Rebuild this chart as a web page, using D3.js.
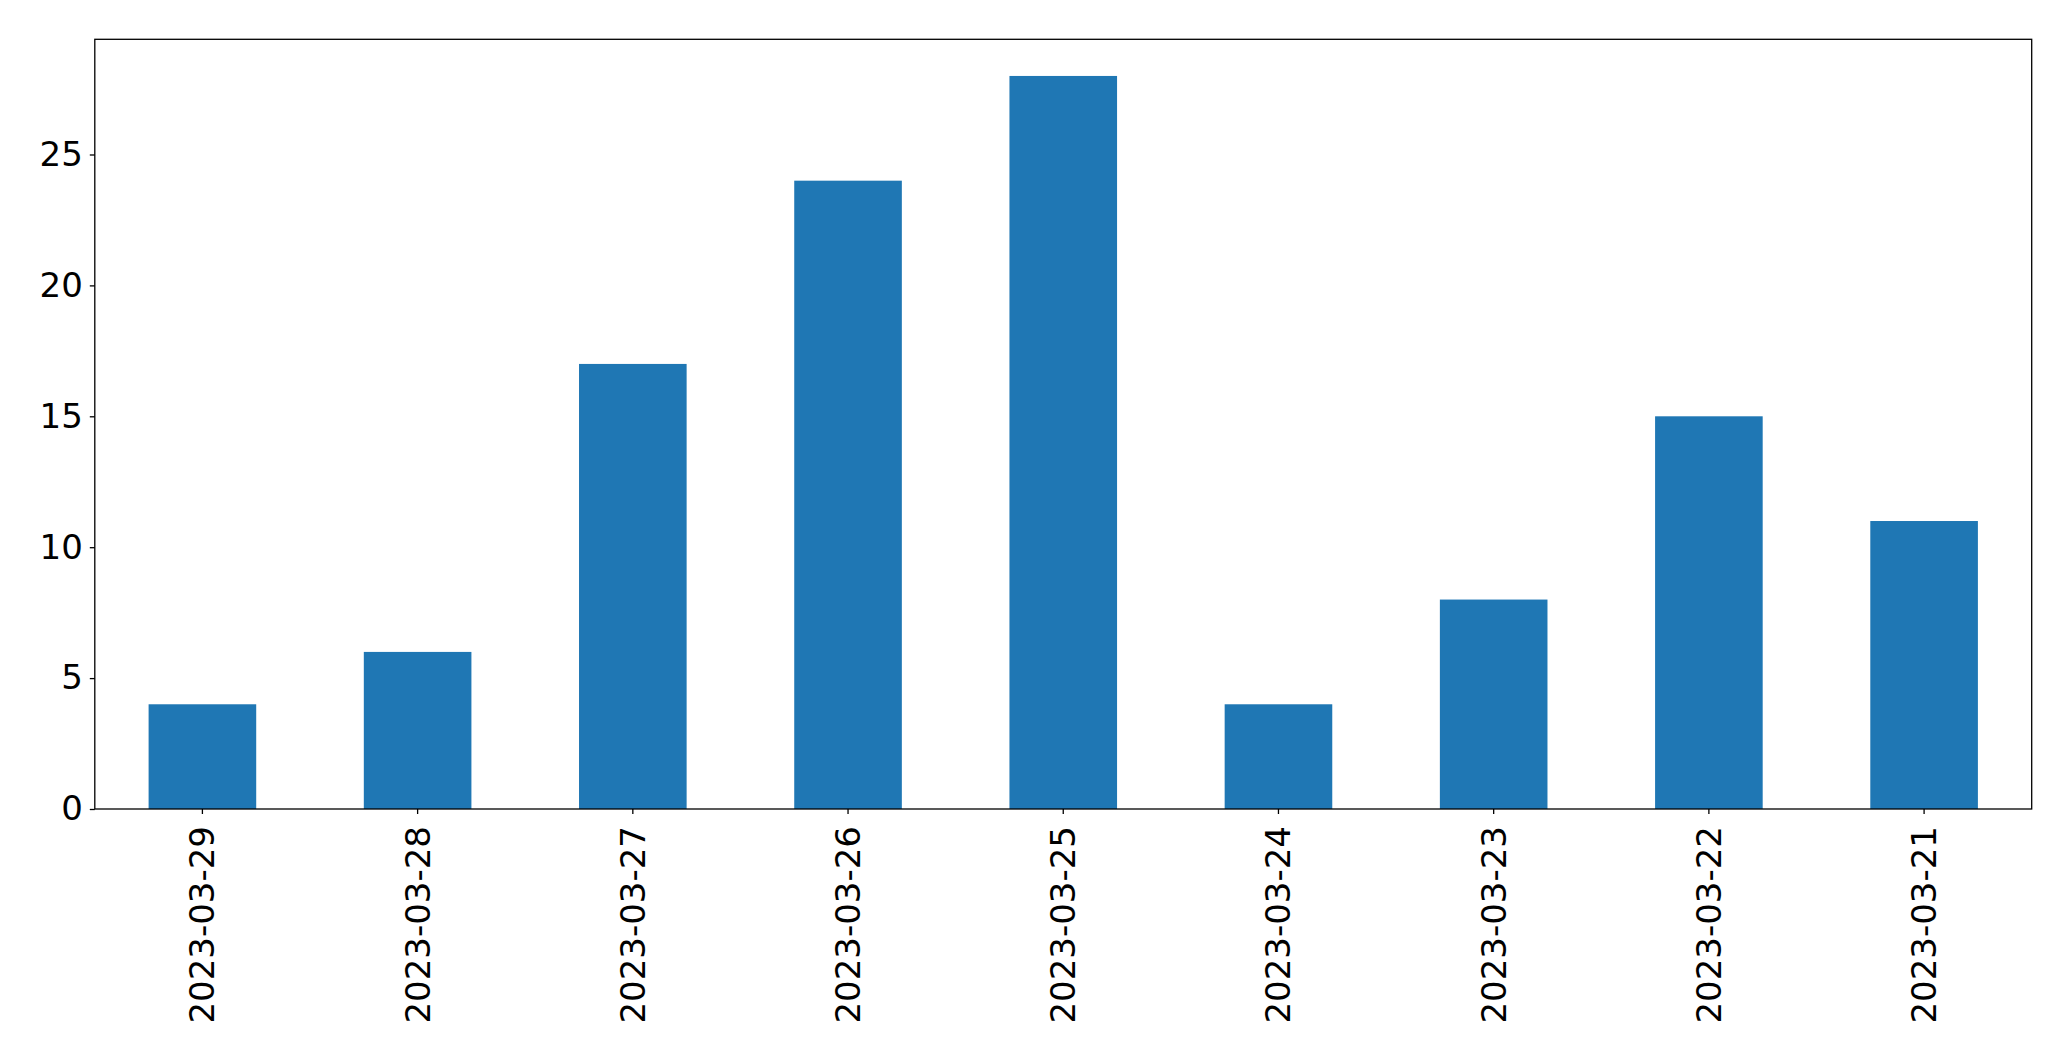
<!DOCTYPE html>
<html><head><meta charset="utf-8">
<script src="https://cdn.jsdelivr.net/npm/d3@7"></script>
<style>html,body{margin:0;padding:0;background:#fff;}svg{display:block;}</style>
</head><body>
<script>
const categories = ["2023-03-29","2023-03-28","2023-03-27","2023-03-26","2023-03-25","2023-03-24","2023-03-23","2023-03-22","2023-03-21"];
const values = [4,6,17,24,28,4,8,15,11];
const yTicks = [0,5,10,15,20,25];

const W = 2071, H = 1061;
const m = {left:94.8, right:2071-2031.7, top:39.3, bottom:1061-809};
const iw = W - m.left - m.right, ih = H - m.top - m.bottom;

const svg = d3.select("body").append("svg").attr("width",W).attr("height",H);
const g = svg.append("g").attr("transform",`translate(${m.left},${m.top})`);

const x = d3.scaleBand().domain(categories).range([0,iw]).paddingInner(0.5).paddingOuter(0.25);
const y = d3.scaleLinear().domain([0, d3.max(values)*1.05]).range([ih,0]);

g.selectAll("rect.bar").data(values).join("rect")
  .attr("class","bar")
  .attr("x",(d,i)=>x(categories[i]))
  .attr("width",x.bandwidth())
  .attr("y",d=>y(d))
  .attr("height",d=>ih-y(d))
  .attr("fill","#1f77b4");

const font = "DejaVu Sans";
const yAxis = g.append("g").call(d3.axisLeft(y).tickValues(yTicks).tickSize(5).tickPadding(7).tickFormat(d3.format("d")));
yAxis.select(".domain").remove();
yAxis.selectAll("line").attr("stroke","#000").attr("stroke-width",1.3);
yAxis.selectAll("text").attr("font-family",font).attr("font-size",34).attr("fill","#000");

const xAxis = g.append("g").attr("transform",`translate(0,${ih})`).call(d3.axisBottom(x).tickSize(5).tickPadding(0));
xAxis.select(".domain").remove();
xAxis.selectAll("line").attr("stroke","#000").attr("stroke-width",1.3);
xAxis.selectAll("text")
  .attr("font-family",font).attr("font-size",34).attr("fill","#000")
  .attr("transform","rotate(-90)")
  .attr("text-anchor","end")
  .attr("x",-17).attr("y",0).attr("dy","0.35em");

g.append("rect").attr("x",0).attr("y",0).attr("width",iw).attr("height",ih)
  .attr("fill","none").attr("stroke","#000").attr("stroke-width",1.3);
</script>
</body></html>
